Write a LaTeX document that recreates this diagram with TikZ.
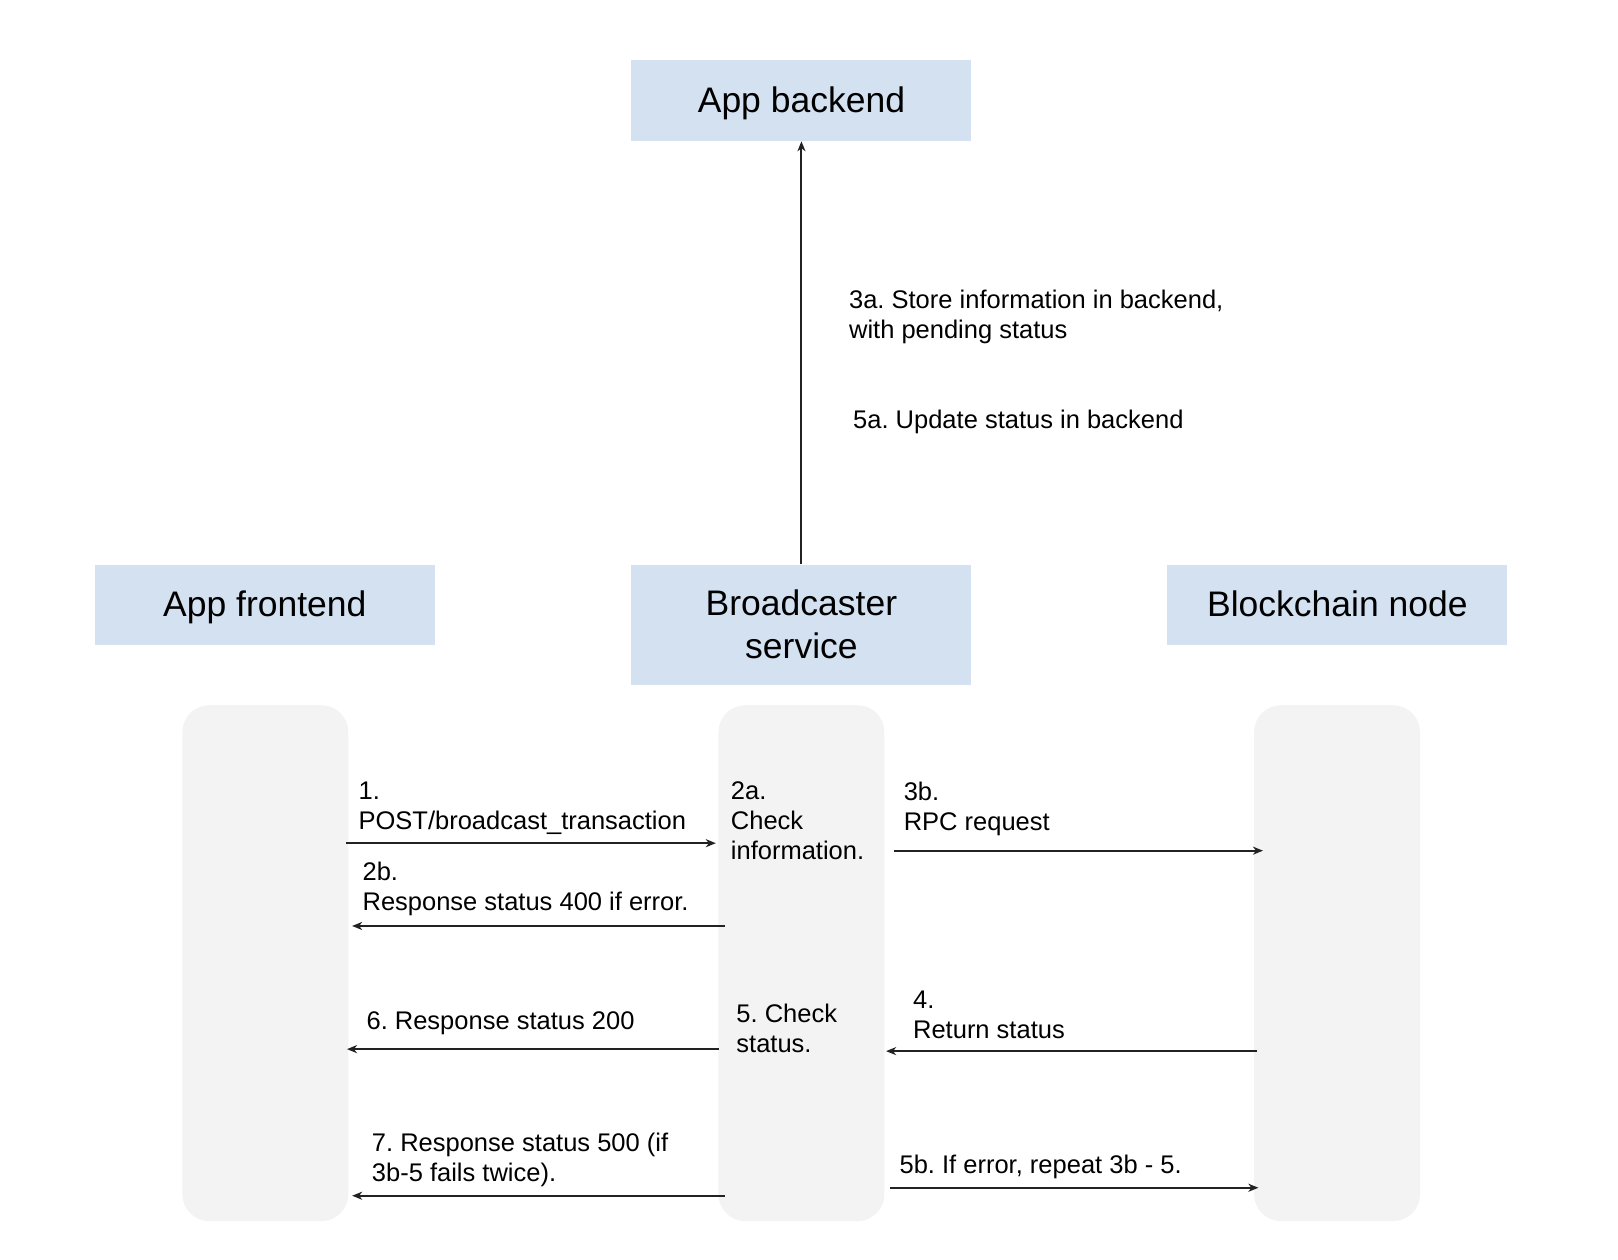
\documentclass[tikz,border=0pt]{standalone}
\usepackage{fontspec}
\setmainfont{Liberation Sans}
\usetikzlibrary{arrows.meta}
\definecolor{boxblue}{RGB}{212,225,241}
\definecolor{lanegray}{RGB}{243,243,243}
\definecolor{linecol}{RGB}{34,34,34}
\frenchspacing
\begin{document}
\begin{tikzpicture}[x=0.9956pt,y=-0.9973pt,
 entity/.style={fill=boxblue, draw=none, minimum width=340pt, minimum height=80.7pt, inner sep=0pt, text depth=0.21em, font=\fontsize{35.5}{42.6}\selectfont, align=center},
 lane/.style={fill=lanegray, draw=none, rounded corners=27pt, minimum width=166pt, minimum height=516pt, inner sep=0pt},
 lbl/.style={anchor=north west, inner sep=0pt, align=left, font=\fontsize{25.5}{30}\selectfont},
 msg/.style={draw=linecol, line width=2pt, -{Stealth[length=10pt,width=8pt,inset=3pt]}}]
\useasboundingbox (0,0) rectangle (1625.2,1263.4);
% entity boxes
\node[entity] (backend) at (805,101) {App backend};
\node[entity] (frontend) at (266,606.5) {App frontend};
\node[entity, minimum height=120.7pt] (broad) at (805,626.6) {Broadcaster\\service};
\node[entity] (chain) at (1343.3,606.5) {Blockchain node};
% lanes
\node[lane] (laneL) at (266.5,965.8) {};
\node[lane] (laneM) at (805,965.8) {};
\node[lane] (laneR) at (1343,965.8) {};
% vertical arrow
\draw[msg] (broad.north) -- (backend.south);
% labels
\node[lbl] (t3a) at (852.7,290.6) {3a. Store information in backend,\\with pending status};
\node[lbl] (t5a) at (856.8,411.3) {5a. Update status in backend};
\node[lbl] (t1) at (360,783.6) {1.\\POST/broadcast\_transaction};
\node[lbl] (t2a) at (734,783.6) {2a.\\Check\\information.};
\node[lbl] (t3b) at (907.6,783.6) {3b.\\RPC request};
\node[lbl] (t2b) at (364,864.6) {2b.\\Response status 400 if error.};
\node[lbl] (t4) at (917,993) {4.\\Return status};
\node[lbl] (t5) at (739.5,1006.6) {5. Check\\status.};
\node[lbl] (t6) at (368,1014.4) {6. Response status 200};
\node[lbl] (t7) at (373.4,1135.6) {7. Response status 500 (if\\3b-5 fails twice).};
\node[lbl] (t5b) at (903.4,1158) {5b. If error, repeat 3b - 5.};
% message arrow end points
\coordinate (m1s) at (347.5,845.5);  \coordinate (m1e) at (719,845.5);
\coordinate (m3bs) at (898,853);     \coordinate (m3be) at (1268.6,853);
\coordinate (m2bs) at (728,928.5);   \coordinate (m2be) at (353.7,928.5);
\coordinate (m6s) at (722,1052);     \coordinate (m6e) at (348.5,1052);
\coordinate (m4s) at (1263,1054);    \coordinate (m4e) at (890,1054);
\coordinate (m7s) at (728,1199);     \coordinate (m7e) at (353.7,1199);
\coordinate (m5bs) at (894,1191);    \coordinate (m5be) at (1264,1191);
\draw[msg] (m1s) -- (m1e);
\draw[msg] (m3bs) -- (m3be);
\draw[msg] (m2bs) -- (m2be);
\draw[msg] (m6s) -- (m6e);
\draw[msg] (m4s) -- (m4e);
\draw[msg] (m7s) -- (m7e);
\draw[msg] (m5bs) -- (m5be);
\end{tikzpicture}
\end{document}
